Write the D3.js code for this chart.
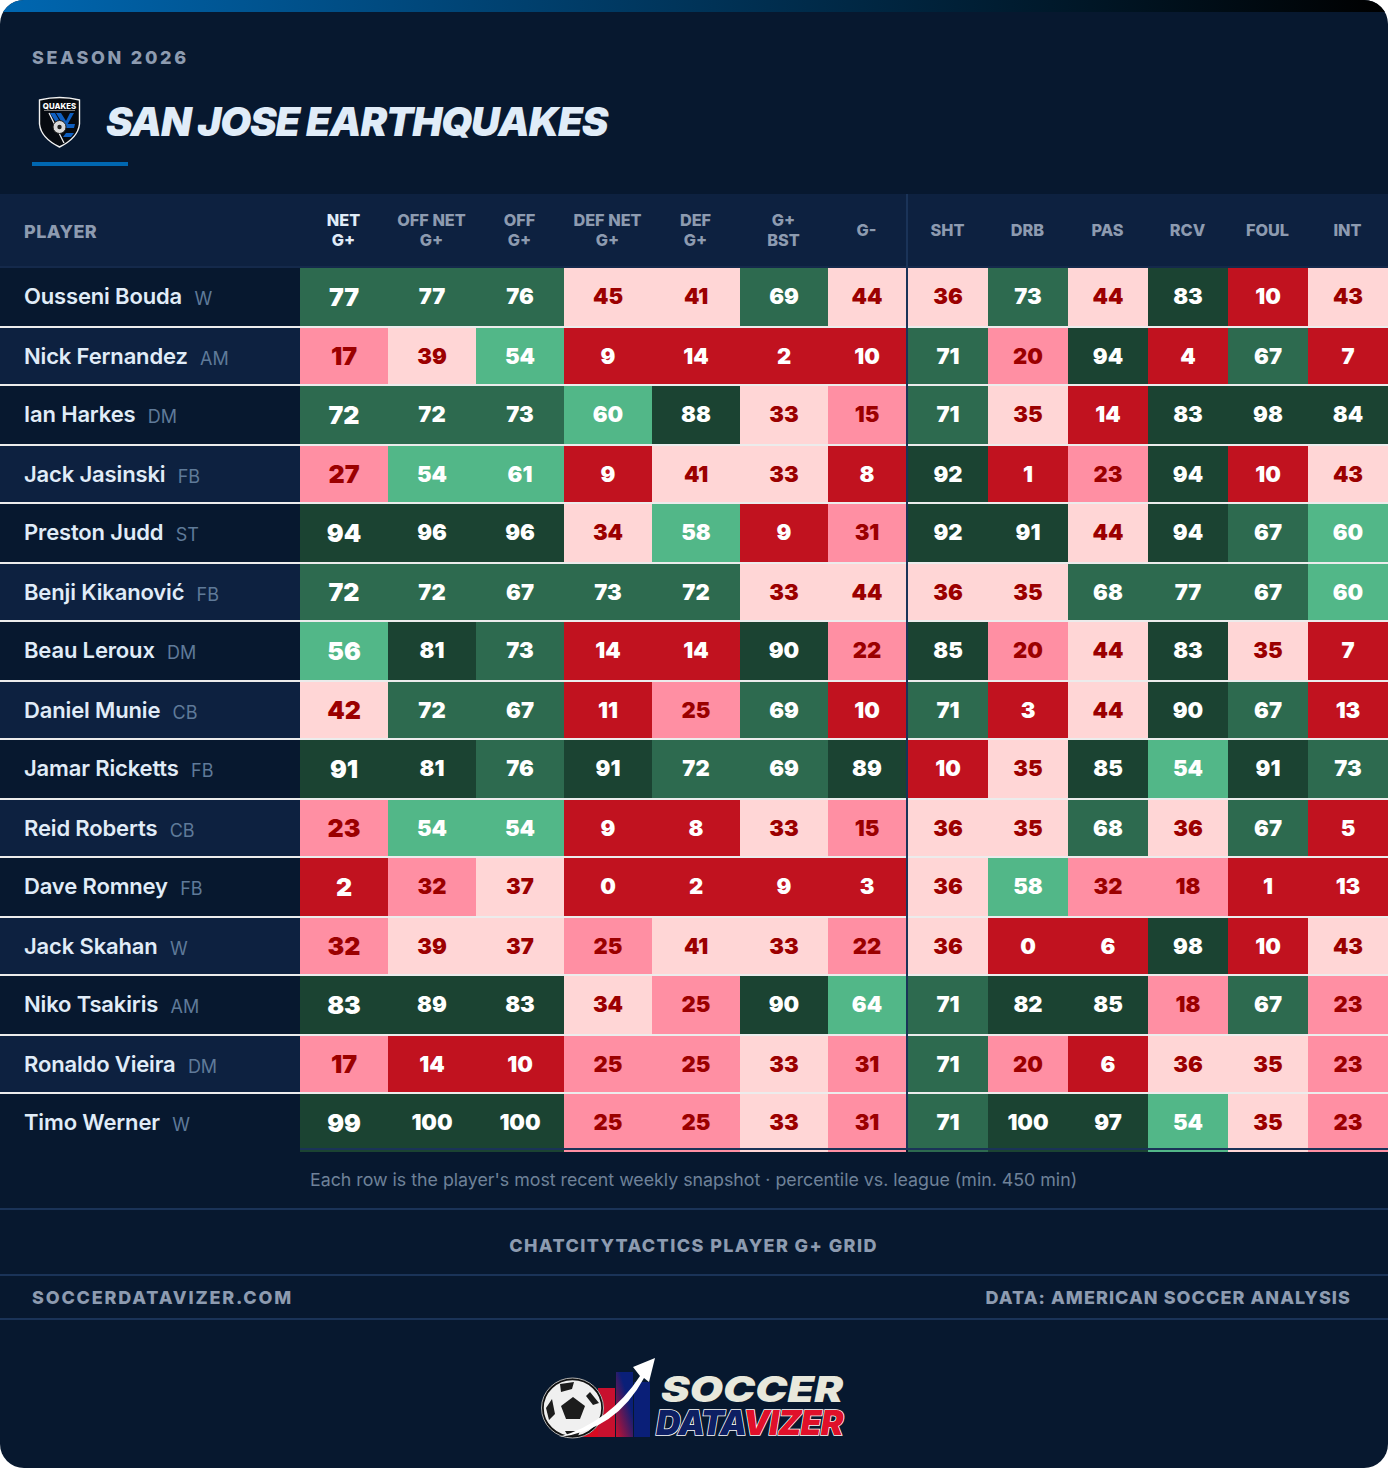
<!DOCTYPE html>
<html>
<head>
<meta charset="utf-8">
<title>San Jose Earthquakes</title>
<script src="https://cdn.jsdelivr.net/npm/d3@7"></script>
<style>
  html, body { margin: 0; padding: 0; background: #fff; }
  svg { display: block; }
  text { font-family: Inter, sans-serif; }
</style>
</head>
<body>
<div id="chart"></div>
<script>
// Table data, one array per column, in player order
const players = ["Ousseni Bouda", "Nick Fernandez", "Ian Harkes", "Jack Jasinski", "Preston Judd",
  "Benji Kikanović", "Beau Leroux", "Daniel Munie", "Jamar Ricketts", "Reid Roberts",
  "Dave Romney", "Jack Skahan", "Niko Tsakiris", "Ronaldo Vieira", "Timo Werner"];
const positions = ["W", "AM", "DM", "FB", "ST", "FB", "DM", "CB", "FB", "CB", "FB", "W", "AM", "DM", "W"];

const netG = [77, 17, 72, 27, 94, 72, 56, 42, 91, 23, 2, 32, 83, 17, 99];
const offNetG = [77, 39, 72, 54, 96, 72, 81, 72, 81, 54, 32, 39, 89, 14, 100];
const offG = [76, 54, 73, 61, 96, 67, 73, 67, 76, 54, 37, 37, 83, 10, 100];
const defNetG = [45, 9, 60, 9, 34, 73, 14, 11, 91, 9, 0, 25, 34, 25, 25];
const defG = [41, 14, 88, 41, 58, 72, 14, 25, 72, 8, 2, 41, 25, 25, 25];
const gBst = [69, 2, 33, 33, 9, 33, 90, 69, 69, 33, 9, 33, 90, 33, 33];
const gMinus = [44, 10, 15, 8, 31, 44, 22, 10, 89, 15, 3, 22, 64, 31, 31];
const sht = [36, 71, 71, 92, 92, 36, 85, 71, 10, 36, 36, 36, 71, 71, 71];
const drb = [73, 20, 35, 1, 91, 35, 20, 3, 35, 35, 58, 0, 82, 20, 100];
const pas = [44, 94, 14, 23, 44, 68, 44, 44, 85, 68, 32, 6, 85, 6, 97];
const rcv = [83, 4, 83, 94, 94, 77, 83, 90, 54, 36, 18, 98, 18, 36, 54];
const foul = [10, 67, 98, 10, 67, 67, 35, 67, 91, 67, 1, 10, 67, 35, 35];
const intr = [43, 7, 84, 43, 60, 60, 7, 13, 73, 5, 13, 43, 23, 23, 23];

const columns = [
  { key: "net", label: ["NET", "G+"], values: netG },
  { key: "offnet", label: ["OFF NET", "G+"], values: offNetG },
  { key: "off", label: ["OFF", "G+"], values: offG },
  { key: "defnet", label: ["DEF NET", "G+"], values: defNetG },
  { key: "def", label: ["DEF", "G+"], values: defG },
  { key: "bst", label: ["G+", "BST"], values: gBst },
  { key: "gminus", label: ["G-"], values: gMinus },
  { key: "sht", label: ["SHT"], values: sht },
  { key: "drb", label: ["DRB"], values: drb },
  { key: "pas", label: ["PAS"], values: pas },
  { key: "rcv", label: ["RCV"], values: rcv },
  { key: "foul", label: ["FOUL"], values: foul },
  { key: "int", label: ["INT"], values: intr }
];

// Page size and table layout
const width = 1388, height = 1468;
const colEdges = [300, 388, 476, 564, 652, 740, 828, 908, 988, 1068, 1148, 1228, 1308, 1388];
const tableTop = 268, rowStep = 59, rowHeight = 58, dividerX = 906;

// Percentile buckets
const cellColor = d3.scaleThreshold()
  .domain([15, 33, 50, 65, 80])
  .range(["#c1121f", "#ff8fa3", "#ffd6d6", "#52b788", "#2d6a4f", "#1b4332"]);
const textColor = d3.scaleThreshold()
  .domain([15, 50])
  .range(["#ffffff", "#9b0000", "#ffffff"]);

const x = d3.scaleOrdinal().domain(columns.map(d => d.key)).range(colEdges);
const colWidth = d => colEdges[columns.indexOf(d) + 1] - x(d.key) - (d.key === "gminus" ? 2 : 0);
// rows land on whole pixels in the source, so the pitch alternates 60/58
const rowIndex = d3.scaleOrdinal().domain(players).range(d3.range(players.length));
const y = name => {
  const i = rowIndex(name);
  return tableTop + rowStep * i + (i % 2);
};

const svg = d3.select("#chart").append("svg")
  .attr("width", width)
  .attr("height", height)
  .attr("viewBox", `0 0 ${width} ${height}`);

const defs = svg.append("defs");
const topGrad = defs.append("linearGradient").attr("id", "topbar");
topGrad.append("stop").attr("offset", "0%").attr("stop-color", "#0067b1");
topGrad.append("stop").attr("offset", "100%").attr("stop-color", "#000000");
const barGrad = defs.append("linearGradient").attr("id", "logobar")
  .attr("x1", 0).attr("y1", 1).attr("x2", 0.6).attr("y2", 0.3);
barGrad.append("stop").attr("offset", "0%").attr("stop-color", "#c8102e");
barGrad.append("stop").attr("offset", "100%").attr("stop-color", "#0a1f78");
defs.append("clipPath").attr("id", "card").append("rect")
  .attr("width", width).attr("height", height).attr("rx", 24);

const card = svg.append("g").attr("clip-path", "url(#card)");
card.append("rect").attr("width", width).attr("height", height).attr("fill", "#07182f");
card.append("rect").attr("width", width).attr("height", 12).attr("fill", "url(#topbar)");

// Title block
card.append("text").attr("x", 32).attr("y", 64)
  .attr("font-size", 18).attr("font-weight", 800).attr("letter-spacing", 2.7)
  .attr("fill", "#8d9bb0").text("SEASON 2026");
card.append("text").attr("x", 106).attr("y", 136)
  .attr("font-size", 40).attr("font-weight", 900).attr("font-style", "italic")
  .attr("letter-spacing", -1.15).attr("fill", "#e0ecf8").text("SAN JOSE EARTHQUAKES");
card.append("rect").attr("x", 32).attr("y", 162).attr("width", 96).attr("height", 4).attr("fill", "#0067b1");

// Team crest
const crest = card.append("g");
const shield = "M39.5 100 Q60 95 79.5 100 L79.5 124 Q78 138 59.5 147 Q41 138 39.5 124 Z";
crest.append("path").attr("d", shield).attr("fill", "#060a10").attr("stroke", "#f2f2f2").attr("stroke-width", 1.4);
crest.append("text").attr("x", 59.5).attr("y", 108.5).attr("text-anchor", "middle")
  .attr("font-size", 7.8).attr("font-weight", 800).attr("fill", "#ffffff").text("QUAKES");
crest.append("rect").attr("x", 44).attr("y", 110).attr("width", 31).attr("height", 1).attr("fill", "#777");
crest.append("path").attr("d", "M50 113 L55 113 L63 127 L59 127 Z M56 113 L61 113 L66 121 L70 113 L74 113 L66 127 L64 126 Z M67 124 L75 124 L74 128 L66 128 Z M66 133 L74 133 L71 137 L63 137 Z")
  .attr("fill", "#0f5fc0");
crest.append("path").attr("d", "M49 113 L64 143").attr("stroke", "#f2f2f2").attr("stroke-width", 1.3);
crest.append("circle").attr("cx", 59.5).attr("cy", 127).attr("r", 6.5).attr("fill", "#d9d9d9").attr("stroke", "#202020");
crest.append("circle").attr("cx", 59.5).attr("cy", 127).attr("r", 2.2).attr("fill", "#222");

// Header band
card.append("rect").attr("y", 194).attr("width", width).attr("height", 72).attr("fill", "#0d2140");
card.append("rect").attr("y", 266).attr("width", width).attr("height", 2).attr("fill", "#14294b");
card.append("text").attr("x", 24).attr("y", 238)
  .attr("font-size", 18).attr("font-weight", 800).attr("letter-spacing", 0.4)
  .attr("fill", "#8d9bb0").text("PLAYER");

const head = card.selectAll(".head").data(columns).join("g").attr("class", "head");
head.selectAll("text").data(d => d.label.map(t => ({ t, col: d }))).join("text")
  .attr("x", d => x(d.col.key) + colWidth(d.col) / 2 - 0.5)
  .attr("y", (d, i) => d.col.label.length === 1 ? 235.5 : 225.5 + i * 20)
  .attr("text-anchor", "middle")
  .attr("font-size", 16.3).attr("font-weight", 800)
  .attr("fill", d => d.col.key === "net" ? "#e0ecf8" : "#8d9bb0")
  .text(d => d.t);

// Player rows
const rows = card.selectAll(".row").data(players).join("g").attr("class", "row");
rows.append("rect")
  .attr("y", d => y(d)).attr("width", 300).attr("height", rowHeight)
  .attr("fill", (d, i) => i % 2 ? "#0d2140" : "#07182f");
rows.append("text")
  .attr("x", 24).attr("y", d => y(d) + 36)
  .attr("font-size", 22).attr("font-weight", 600).attr("letter-spacing", -0.15)
  .attr("fill", "#e0ecf8")
  .text(d => d)
  .each(function (d, i) {
    // position tag sits after the name
    rows.filter((p, j) => j === i).append("text")
      .attr("x", 24 + this.getComputedTextLength() + 12.3)
      .attr("y", y(d) + 36.5)
      .attr("font-size", 18).attr("font-weight", 400)
      .attr("fill", "#5f7a99")
      .text(positions[i]);
  });

// Cells
const cells = columns.flatMap(col => col.values.map((v, i) => ({ col, v, player: players[i], idx: i })));
card.selectAll(".cell").data(cells).join("rect")
  .attr("class", "cell")
  .attr("x", d => x(d.col.key))
  .attr("y", d => y(d.player))
  .attr("width", d => colWidth(d.col))
  .attr("height", rowHeight)
  .attr("fill", d => cellColor(d.v));
card.selectAll(".val").data(cells).join("text")
  .attr("class", "val")
  .attr("x", d => x(d.col.key) + colWidth(d.col) / 2)
  // the first column keeps a steady 59px pitch, the others follow the row snapping
  .attr("y", d => y(d.player) + (d.col.key === "net" ? 38 - d.idx % 2 : 35.5))
  .attr("text-anchor", "middle")
  .attr("font-size", d => d.col.key === "net" ? 25 : 22)
  .attr("font-weight", 900)
  .attr("fill", d => textColor(d.v))
  .text(d => d.v);

// White rules between rows, navy rule under the last
card.selectAll(".rule").data(players.slice(0, -1)).join("rect")
  .attr("class", "rule")
  .attr("y", d => y(d) + (rowIndex(d) % 2 ? rowHeight - 2 : rowHeight))
  .attr("width", width).attr("height", 2).attr("fill", "#ececec");
card.append("rect").attr("x", 300).attr("y", 1148).attr("width", width - 300).attr("height", 2).attr("fill", "#1a3358");
card.append("rect").attr("x", dividerX).attr("y", 194).attr("width", 2).attr("height", 956).attr("fill", "#1a3358");

// Footer
card.append("text").attr("x", 310).attr("y", 1186)
  .attr("font-size", 17.77).attr("fill", "#6f8299")
  .text("Each row is the player's most recent weekly snapshot · percentile vs. league (min. 450 min)");
card.selectAll(".fline").data([1208, 1274, 1318]).join("rect")
  .attr("class", "fline").attr("y", d => d).attr("width", width).attr("height", 2).attr("fill", "#1a3358");
card.append("text").attr("x", 693.5).attr("y", 1252).attr("text-anchor", "middle")
  .attr("font-size", 18).attr("font-weight", 800).attr("letter-spacing", 1.4)
  .attr("fill", "#8d9bb0").text("CHATCITYTACTICS PLAYER G+ GRID");
card.append("text").attr("x", 32).attr("y", 1304)
  .attr("font-size", 18).attr("font-weight", 800).attr("letter-spacing", 1.8)
  .attr("fill", "#8d9bb0").text("SOCCERDATAVIZER.COM");
card.append("text").attr("x", 1351).attr("y", 1304).attr("text-anchor", "end")
  .attr("font-size", 18).attr("font-weight", 800).attr("letter-spacing", 1.05)
  .attr("fill", "#8d9bb0").text("DATA: AMERICAN SOCCER ANALYSIS");

// Brand logo
const logo = card.append("g");
logo.append("rect").attr("x", 566).attr("y", 1420).attr("width", 16).attr("height", 17).attr("fill", "#d80a20");
logo.append("rect").attr("x", 582).attr("y", 1400).attr("width", 16).attr("height", 37).attr("fill", "#d80a20");
logo.append("rect").attr("x", 598).attr("y", 1388).attr("width", 17).attr("height", 49).attr("fill", "#c8102e");
logo.append("rect").attr("x", 616).attr("y", 1372).attr("width", 17).attr("height", 65).attr("fill", "url(#logobar)");
logo.append("rect").attr("x", 634).attr("y", 1382).attr("width", 16).attr("height", 55).attr("fill", "#0a1f78");
logo.append("ellipse").attr("cx", 572.5).attr("cy", 1408).attr("rx", 30).attr("ry", 29)
  .attr("fill", "#f0f0f0").attr("stroke", "#101010").attr("stroke-width", 2.5);
logo.append("ellipse").attr("cx", 572.5).attr("cy", 1408).attr("rx", 31).attr("ry", 30)
  .attr("fill", "none").attr("stroke", "#d8d8d8").attr("stroke-width", 0.8);
logo.append("path").attr("d", "M573 1397 L585 1406 L580 1419 L566 1419 L561 1406 Z").attr("fill", "#1c1c1c");
logo.append("path").attr("d", "M560 1384 L574 1382 L572 1389 L561 1392 Z M590 1392 L599 1403 L593 1405 L586 1396 Z M546 1408 L552 1399 L555 1414 L549 1420 Z M565 1431 L580 1431 L578 1436 L568 1436 Z")
  .attr("fill", "#1c1c1c");
logo.append("path").attr("d", "M559 1437 Q610 1422 640 1376 L633 1367 L655 1358 L649 1382 L644 1378 Q616 1430 559 1437 Z")
  .attr("fill", "#ffffff");
logo.append("text").attr("x", 661).attr("y", 1402)
  .attr("font-size", 36).attr("font-weight", 900).attr("font-style", "italic")
  .attr("textLength", 182).attr("lengthAdjust", "spacingAndGlyphs")
  .attr("fill", "#e8e8dc").text("SOCCER");
const brand2 = logo.append("text").attr("x", 656).attr("y", 1435)
  .attr("font-size", 34).attr("font-weight", 900).attr("font-style", "italic").attr("letter-spacing", -1)
  .attr("stroke", "#ffffff").attr("stroke-width", 1.5).attr("paint-order", "stroke");
brand2.append("tspan").attr("fill", "#0d1f63").text("DATA");
brand2.append("tspan").attr("fill", "#e0102a").text("VIZER");
</script>
</body>
</html>
